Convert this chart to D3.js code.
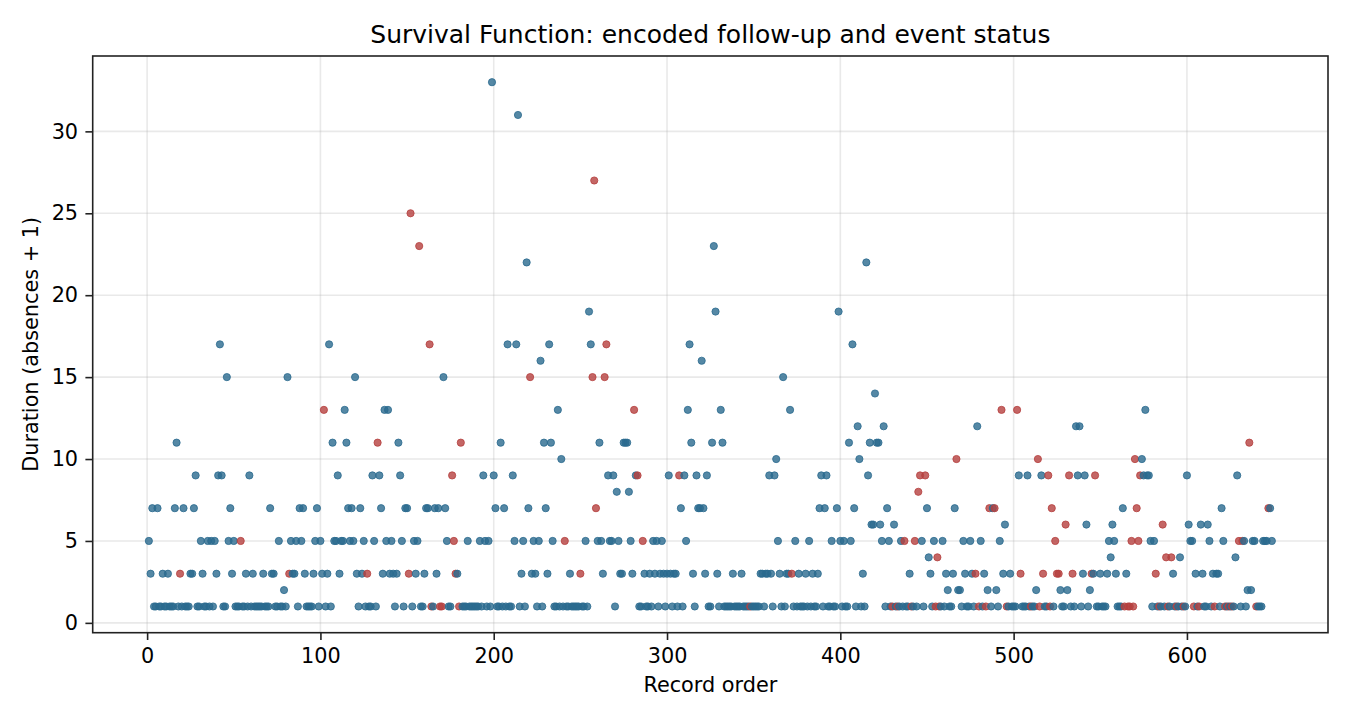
<!DOCTYPE html>
<html><head><meta charset="utf-8">
<script src="https://cdn.jsdelivr.net/npm/d3@7"></script>
<style>body{margin:0;background:#fff;} svg text{font-family:"DejaVu Sans",sans-serif;fill:#000;}</style>
</head><body><svg id="chart" width="1350" height="720"></svg>
<script>
// Duration (absences + 1) per record, in record order (record 1..649)
const durations = [
5,3,7,1,1,7,1,1,3,1,
1,3,1,1,1,7,11,1,3,1,
7,1,1,1,3,3,7,9,1,1,
5,3,1,1,5,1,5,1,5,3,
9,17,9,1,1,15,5,7,3,5,
1,1,1,5,1,1,3,1,9,1,
3,1,1,1,1,1,3,1,1,1,
7,3,3,1,1,5,1,1,2,1,
15,3,5,3,3,5,1,7,5,7,
3,1,1,1,1,3,5,7,1,5,
3,13,1,3,17,1,11,5,5,9,
3,5,5,13,11,7,5,7,5,15,
3,1,7,3,5,1,3,1,1,9,
5,1,11,9,7,3,13,5,13,3,
5,3,1,3,11,9,5,1,7,7,
3,25,1,5,3,5,23,1,1,3,
7,7,17,1,1,7,3,7,1,1,
15,7,5,1,1,9,5,3,3,1,
11,1,1,1,5,1,1,1,1,1,
1,5,1,9,5,1,5,1,33,9,
7,1,1,11,1,7,1,17,1,1,
9,5,17,31,1,3,5,1,22,7,
15,3,5,3,1,5,16,1,11,7,
3,17,11,5,1,1,13,1,10,1,
5,1,1,3,1,1,1,1,1,3,
1,1,5,1,19,17,15,27,7,5,
11,5,3,15,17,9,5,5,9,1,
8,5,3,3,11,11,11,8,5,3,
13,9,9,1,1,5,3,1,1,3,
1,5,3,5,1,3,5,3,1,3,
9,3,1,3,3,1,9,7,1,9,
5,13,17,11,3,1,9,7,7,16,
7,3,9,1,1,11,23,19,3,1,
13,11,1,1,1,1,1,3,1,1,
1,1,3,1,1,1,1,1,1,1,
1,1,1,3,3,1,3,3,9,3,
1,9,10,5,3,1,15,1,3,3,
13,3,1,5,1,3,1,1,1,3,
1,5,1,3,1,1,3,7,9,1,
7,9,1,1,5,1,1,7,19,5,
1,5,1,1,11,5,17,7,1,12,
10,1,3,1,22,9,11,6,6,14,
11,11,6,5,12,1,7,5,1,1,
6,1,1,1,5,1,5,1,1,3,
1,1,5,1,8,9,5,1,9,7,
4,3,1,5,1,4,1,1,5,1,
3,2,1,1,3,7,10,2,2,1,
5,3,1,1,5,3,1,3,12,1,
5,1,3,1,2,7,1,7,7,2,
1,5,13,3,6,1,1,3,1,1,
1,13,9,3,1,1,1,9,1,1,
1,1,2,10,1,9,3,1,1,9,
1,7,1,5,3,3,2,1,1,6,
2,9,1,3,1,12,9,12,1,3,
9,6,1,2,3,3,9,1,1,3,
1,1,1,3,5,4,6,5,3,1,
1,1,7,1,3,1,1,5,1,10,
7,5,9,10,9,13,9,9,5,1,
5,3,1,1,1,6,1,4,1,1,
4,3,1,1,1,4,1,1,1,9,
6,5,5,1,3,1,1,6,3,1,
1,6,5,1,3,1,3,3,1,7,
5,1,1,1,1,1,1,4,9,5,
1,5,5,1,2,11,2,5,5,1,
1,1,1,5,5,5,7,7,5
];
// Positions (0-based, in record order) of records whose event occurred
const eventRecords = [18,53,81,101,126,132,150,151,156,162,163,168,169,175,176,177,179,180,
220,240,249,256,257,258,263,264,280,282,285,306,347,371,429,432,436,440,442,444,445,448,
454,455,456,466,477,479,483,485,488,492,495,501,503,509,513,514,516,519,520,521,523,524,
525,529,531,533,544,546,563,565,566,567,568,569,570,571,572,581,583,585,587,588,590,593,
597,603,606,615,621,623,625,629,631,635,639,646];
const xTicks = [0,100,200,300,400,500,600];
const yTicks = [0,5,10,15,20,25,30];
const titleText = "Survival Function: encoded follow-up and event status";
const xLabel = "Record order";
const yLabel = "Duration (absences + 1)";
const colorCensored = "#2a6a8e";
const colorEvent = "#b5403e";

const eventSet = new Set(eventRecords);
const records = durations.map((d, i) => ({order: i + 1, duration: d, event: eventSet.has(i)}));

const svg = d3.select("#chart");
const L = 92.7, R = 1328, T = 56, B = 632.7;
const xMin = d3.min(records, d => d.order), xMax = d3.max(records, d => d.order);
const yMin = d3.min(durations), yMax = d3.max(durations);
const xPad = (xMax - xMin) * 0.05, yPad = (yMax - yMin) * 0.05;
const x = d3.scaleLinear().domain([xMin - xPad, xMax + xPad]).range([L, R]);
const y = d3.scaleLinear().domain([yMin - yPad, yMax + yPad]).range([B, T]);

// grid
const grid = svg.append("g");
grid.selectAll("line.gx").data(xTicks).join("line")
  .attr("x1", d => x(d)).attr("x2", d => x(d)).attr("y1", T).attr("y2", B)
  .attr("stroke", "#b0b0b0").attr("stroke-opacity", 0.28).attr("stroke-width", 1.6);
grid.selectAll("line.gy").data(yTicks).join("line")
  .attr("y1", d => y(d)).attr("y2", d => y(d)).attr("x1", L).attr("x2", R)
  .attr("stroke", "#b0b0b0").attr("stroke-opacity", 0.28).attr("stroke-width", 1.6);

// points
svg.append("g").selectAll("circle").data(records).join("circle")
  .attr("cx", d => x(d.order)).attr("cy", d => y(d.duration)).attr("r", 3.6)
  .attr("fill", d => d.event ? colorEvent : colorCensored)
  .attr("fill-opacity", 0.8)
  .attr("stroke", d => d.event ? colorEvent : colorCensored)
  .attr("stroke-opacity", 0.8).attr("stroke-width", 1);

// axes
const xAxis = svg.append("g").attr("transform", `translate(0,${B})`)
  .call(d3.axisBottom(x).tickValues(xTicks).tickSize(7.3).tickPadding(8.5).tickFormat(d3.format("d")));
const yAxis = svg.append("g").attr("transform", `translate(${L},0)`)
  .call(d3.axisLeft(y).tickValues(yTicks).tickSize(7.3).tickPadding(7.3).tickFormat(d3.format("d")));
[xAxis, yAxis].forEach(a => {
  a.select(".domain").remove();
  a.selectAll(".tick line").attr("stroke", "#222").attr("stroke-width", 1.6);
  a.selectAll(".tick text").style("font-size", "20.8px").style("font-family", "DejaVu Sans").attr("fill", "#000");
});

// frame
svg.append("rect").attr("x", L).attr("y", T).attr("width", R - L).attr("height", B - T)
  .attr("fill", "none").attr("stroke", "#222").attr("stroke-width", 1.6);

// labels
svg.append("text").attr("x", (L + R) / 2).attr("y", 43).attr("text-anchor", "middle")
  .style("font-size", "25px").text(titleText);
svg.append("text").attr("x", (L + R) / 2).attr("y", 692).attr("text-anchor", "middle")
  .style("font-size", "20.8px").text(xLabel);
svg.append("text").attr("transform", `translate(38,${(T + B) / 2}) rotate(-90)`).attr("text-anchor", "middle")
  .style("font-size", "20.8px").text(yLabel);
</script>
</body></html>
